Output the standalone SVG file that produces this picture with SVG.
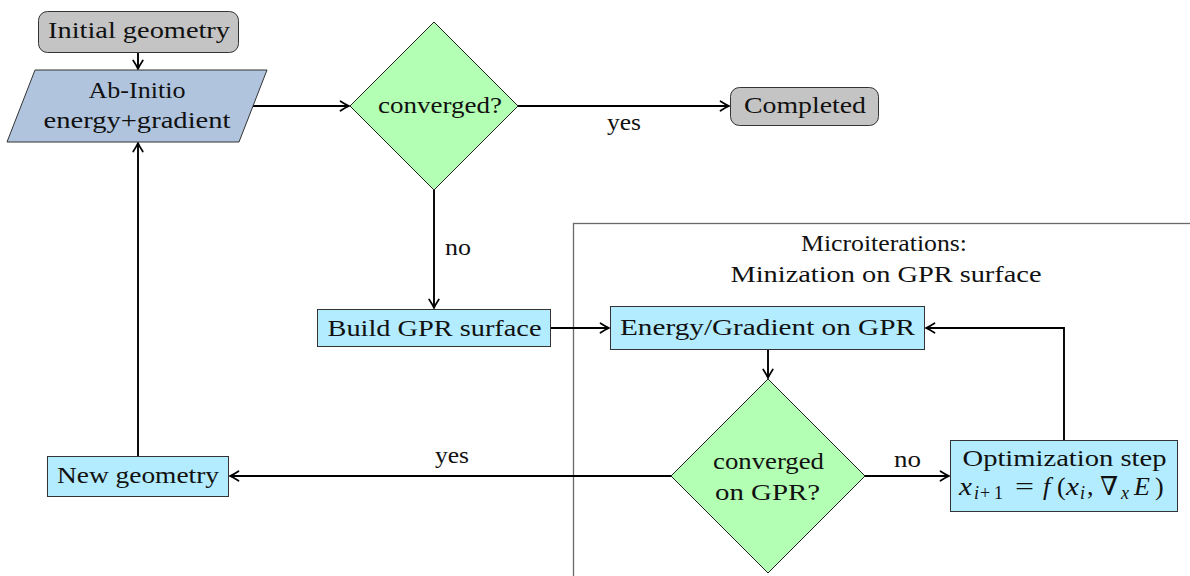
<svg xmlns="http://www.w3.org/2000/svg" width="1190" height="576" viewBox="0 0 1190 576">
  <style>
    .t { font-family: "Liberation Serif", "DejaVu Serif", serif; font-size: 24px; fill: #111; text-anchor: middle; }
    .m { font-family: "Liberation Serif", "DejaVu Serif", serif; font-size: 26px; fill: #111; }
    .i { font-style: italic; }
    .sub { font-size: 18px; }
    .term { fill: #c4c4c4; stroke: #333; stroke-width: 1; }
    .io { fill: #b0c4de; stroke: #333; stroke-width: 1; }
    .proc { fill: #b3ecfe; stroke: #333; stroke-width: 1; }
    .dec { fill: #b3ffb3; stroke: #222; stroke-width: 1; }
    .frame { fill: none; stroke: #6a6a6a; stroke-width: 1.3; }
    .edge { fill: none; stroke: #000; stroke-width: 1.9; marker-end: url(#arrow); }
  </style>
  <defs>
    <marker id="arrow" viewBox="-10 -6 12 12" refX="0" refY="0" markerWidth="12" markerHeight="12" markerUnits="userSpaceOnUse" orient="auto">
      <path d="M-8.5,-4.8 Q-3,-1.2 0,0 Q-3,1.2 -8.5,4.8" fill="none" stroke="#000" stroke-width="1.7" stroke-linecap="round"/>
    </marker>
  </defs>

  <!-- microiteration frame (extends past the page edge) -->
  <g id="microiterations">
    <rect class="frame" x="573.5" y="223.5" width="700" height="400"/>
    <text class="t" x="884" y="251" textLength="166" lengthAdjust="spacingAndGlyphs">Microiterations:</text>
    <text class="t" x="886" y="282" textLength="311" lengthAdjust="spacingAndGlyphs">Minization on GPR surface</text>
  </g>

  <!-- connectors -->
  <g id="connectors">
    <path class="edge" d="M138,52.5 L138,69"/>
    <path class="edge" d="M253,106 L349,106"/>
    <path class="edge" d="M518,106 L729,106"/>
    <path class="edge" d="M434,190 L434,308"/>
    <path class="edge" d="M551,328 L609,328"/>
    <path class="edge" d="M768,350 L768,378"/>
    <path class="edge" d="M865,476 L949,476"/>
    <path class="edge" d="M1064,440 L1064,328 L926,328"/>
    <path class="edge" d="M671,476 L230,476"/>
    <path class="edge" d="M138,456 L138,143"/>
    <text class="t" x="624" y="130" textLength="34" lengthAdjust="spacingAndGlyphs">yes</text>
    <text class="t" x="458" y="255" textLength="26" lengthAdjust="spacingAndGlyphs">no</text>
    <text class="t" x="907.5" y="467" textLength="27" lengthAdjust="spacingAndGlyphs">no</text>
    <text class="t" x="452" y="463" textLength="34" lengthAdjust="spacingAndGlyphs">yes</text>
  </g>

  <g id="initial-geometry">
    <rect class="term" x="38.5" y="11.5" width="200" height="41" rx="9"/>
    <text class="t" x="139" y="38" textLength="182" lengthAdjust="spacingAndGlyphs">Initial geometry</text>
  </g>

  <g id="ab-initio">
    <polygon class="io" points="35,70 267,70 239,142 7,142"/>
    <text class="t" x="137" y="98" textLength="97" lengthAdjust="spacingAndGlyphs">Ab-Initio</text>
    <text class="t" x="137" y="128" textLength="187" lengthAdjust="spacingAndGlyphs">energy+gradient</text>
  </g>

  <g id="converged">
    <polygon class="dec" points="350,106 434,22 518,106 434,190"/>
    <text class="t" x="440" y="113" textLength="124" lengthAdjust="spacingAndGlyphs">converged?</text>
  </g>

  <g id="completed">
    <rect class="term" x="730.5" y="87.5" width="148" height="38" rx="9"/>
    <text class="t" x="805" y="113" textLength="122" lengthAdjust="spacingAndGlyphs">Completed</text>
  </g>

  <g id="build-gpr">
    <rect class="proc" x="317.5" y="309.5" width="233" height="37"/>
    <text class="t" x="434.5" y="336" textLength="214" lengthAdjust="spacingAndGlyphs">Build GPR surface</text>
  </g>

  <g id="energy-gpr">
    <rect class="proc" x="610.5" y="306.5" width="314" height="43"/>
    <text class="t" x="767.5" y="335" textLength="295" lengthAdjust="spacingAndGlyphs">Energy/Gradient on GPR</text>
  </g>

  <g id="converged-gpr">
    <polygon class="dec" points="671,476 768,379 865,476 768,573"/>
    <text class="t" x="768.5" y="469" textLength="111" lengthAdjust="spacingAndGlyphs">converged</text>
    <text class="t" x="767.5" y="500" textLength="105" lengthAdjust="spacingAndGlyphs">on GPR?</text>
  </g>

  <g id="optimization-step">
    <rect class="proc" x="950.5" y="440.5" width="227" height="71"/>
    <text class="t" x="1064.5" y="466" textLength="204" lengthAdjust="spacingAndGlyphs">Optimization step</text>
    <!-- x_{i+1} = f(x_i, nabla_x E), each glyph placed by hand -->
    <text class="m">
      <tspan class="i" x="959" y="495" textLength="13" lengthAdjust="spacingAndGlyphs">x</tspan>
      <tspan class="sub i" x="974" y="499">i</tspan>
      <tspan class="sub" x="980" y="499">+</tspan>
      <tspan class="sub" x="994" y="499">1</tspan>
      <tspan x="1015" y="495" textLength="19" lengthAdjust="spacingAndGlyphs">=</tspan>
      <tspan class="i" x="1043" y="495">f</tspan>
      <tspan x="1057" y="495">(</tspan>
      <tspan class="i" x="1066" y="495" textLength="13" lengthAdjust="spacingAndGlyphs">x</tspan>
      <tspan class="sub i" x="1080" y="499">i</tspan>
      <tspan x="1087" y="495">,</tspan>
      <tspan x="1100" y="495">∇</tspan>
      <tspan class="sub i" x="1121" y="499">x</tspan>
      <tspan class="i" x="1134" y="495">E</tspan>
      <tspan x="1155" y="495">)</tspan>
    </text>
  </g>

  <g id="new-geometry">
    <rect class="proc" x="47.5" y="456.5" width="181" height="40"/>
    <text class="t" x="138" y="483" textLength="162" lengthAdjust="spacingAndGlyphs">New geometry</text>
  </g>
</svg>
